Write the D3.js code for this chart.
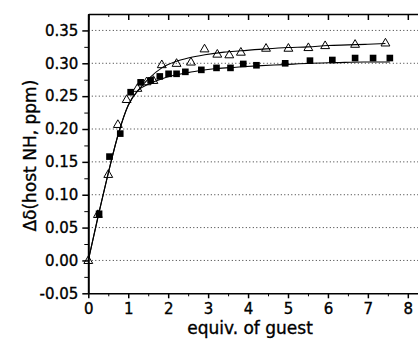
<!DOCTYPE html>
<html><head><meta charset="utf-8">
<script src="https://cdn.jsdelivr.net/npm/d3@7"></script>
<style>
html,body{margin:0;padding:0;background:#fff;}
svg{display:block;}
text{font-family:"DejaVu Sans",sans-serif;fill:#000;stroke:#000;stroke-width:0.35px;}
</style></head>
<body>
<svg id="chart" width="418" height="339"></svg>
<script>
// ---- data ----
const squareX = [0.27,0.53,0.80,1.06,1.31,1.56,1.79,2.01,2.21,2.43,2.83,3.21,3.56,3.88,4.21,4.93,5.55,6.11,6.68,7.13,7.55];
const squareY = [0.071,0.158,0.193,0.256,0.271,0.274,0.280,0.284,0.284,0.287,0.290,0.293,0.293,0.299,0.297,0.300,0.304,0.305,0.308,0.308,0.308];
const triX = [0.00,0.24,0.50,0.74,0.96,1.23,1.46,1.63,1.84,2.21,2.57,2.91,3.23,3.53,3.82,4.45,5.01,5.51,5.93,6.68,7.44];
const triY = [0.000,0.070,0.131,0.207,0.245,0.262,0.272,0.274,0.298,0.300,0.302,0.322,0.314,0.313,0.317,0.323,0.323,0.324,0.327,0.329,0.331];
// fitted curves
const fitTriX = [0.00,0.25,0.50,0.75,1.00,1.25,1.50,1.84,2.21,2.50,2.92,3.40,3.82,4.45,5.00,5.50,6.00,6.50,7.00,7.44];
const fitTriY = [0.000,0.069,0.133,0.192,0.236,0.259,0.276,0.293,0.303,0.308,0.313,0.317,0.319,0.322,0.324,0.325,0.327,0.328,0.329,0.330];
const fitSqX = [0.00,0.27,0.50,0.75,1.00,1.25,1.50,1.78,2.10,2.43,2.80,3.21,3.70,4.22,4.90,5.56,6.20,6.90,7.55];
const fitSqY = [0.000,0.073,0.133,0.192,0.236,0.259,0.268,0.275,0.281,0.285,0.289,0.292,0.294,0.296,0.298,0.300,0.301,0.302,0.302];
const xTicks = [0,1,2,3,4,5,6,7,8];
const yTicks = [-0.05,0.00,0.05,0.10,0.15,0.20,0.25,0.30,0.35];
const gridY = [0.00,0.05,0.10,0.15,0.20,0.25,0.30,0.35];
const xLabel = "equiv. of guest";
const yLabel = "Δδ(host NH, ppm)";

const svg = d3.select("#chart");
const L = 88.3, R = 419, T = 14, B = 293.3;
const x = d3.scaleLinear().domain([0, 8.28]).range([L, R]);
const y = d3.scaleLinear().domain([-0.05, 0.375]).range([B, T]);
const fmtY = d => d3.format(".2f")(d).replace("\u2212", "-");

// gridlines
svg.append("g").selectAll("line").data(gridY).join("line")
  .attr("x1", L).attr("x2", R)
  .attr("y1", d => y(d)).attr("y2", d => y(d))
  .attr("stroke", "#333").attr("stroke-width", 1)
  .attr("stroke-dasharray", "1,2.5");

// bottom axis
const xMinor = d3.range(0.5, 8.3, 1);
const gB = svg.append("g").attr("transform", `translate(0,${B})`)
  .call(d3.axisBottom(x).tickValues(xTicks).tickFormat(d3.format("d")).tickSizeInner(5).tickSizeOuter(0).tickPadding(5));
gB.selectAll(".tick line").attr("stroke-width", 1.5);
gB.select(".domain").attr("stroke-width", 1.5);
gB.selectAll("text").style("font-size", "15px").style("font-family", "DejaVu Sans");
svg.append("g").attr("transform", `translate(0,${B})`)
  .call(d3.axisBottom(x).tickValues(xMinor).tickFormat("").tickSizeInner(3).tickSizeOuter(0))
  .call(g => g.select(".domain").remove());

// top axis (ticks inward)
const gT = svg.append("g").attr("transform", `translate(0,${T})`)
  .call(d3.axisTop(x).tickValues(xTicks).tickFormat("").tickSizeInner(-6).tickSizeOuter(0));
gT.selectAll(".tick line").attr("stroke-width", 1.5);
gT.select(".domain").attr("stroke-width", 1.5);
svg.append("g").attr("transform", `translate(0,${T})`)
  .call(d3.axisTop(x).tickValues(xMinor).tickFormat("").tickSizeInner(-3).tickSizeOuter(0))
  .call(g => g.select(".domain").remove());

// left axis
const yMinor = d3.range(-0.025, 0.37, 0.05);
const gL = svg.append("g").attr("transform", `translate(${L},0)`)
  .call(d3.axisLeft(y).tickValues(yTicks).tickFormat(fmtY).tickSizeInner(6).tickSizeOuter(0).tickPadding(4));
gL.selectAll(".tick line").attr("stroke-width", 1.5);
gL.select(".domain").attr("stroke-width", 2);
gL.selectAll("text").style("font-size", "15px").style("font-family", "DejaVu Sans");
svg.append("g").attr("transform", `translate(${L},0)`)
  .call(d3.axisLeft(y).tickValues(yMinor).tickFormat("").tickSizeInner(4).tickSizeOuter(0))
  .call(g => g.select(".domain").remove());

// fitted lines
const line = d3.line().x(d => x(d[0])).y(d => y(d[1])).curve(d3.curveMonotoneX);
svg.append("path").datum(d3.zip(fitTriX, fitTriY)).attr("d", line)
  .attr("fill", "none").attr("stroke", "#000").attr("stroke-width", 1.1);
svg.append("path").datum(d3.zip(fitSqX, fitSqY)).attr("d", line)
  .attr("fill", "none").attr("stroke", "#000").attr("stroke-width", 1.1);

// squares
svg.append("g").selectAll("path").data(d3.zip(squareX, squareY)).join("path")
  .attr("transform", d => `translate(${x(d[0])},${y(d[1])})`)
  .attr("d", d3.symbol(d3.symbolSquare, 44))
  .attr("fill", "#000");

// triangles
svg.append("g").selectAll("path").data(d3.zip(triX, triY)).join("path")
  .attr("transform", d => `translate(${x(d[0])},${y(d[1]) + 0.5})`)
  .attr("d", d3.symbol(d3.symbolTriangle, 34))
  .attr("fill", "none").attr("stroke", "#000").attr("stroke-width", 1);

// axis titles
svg.append("text").attr("x", 250).attr("y", 334).attr("text-anchor", "middle")
  .style("font-size", "17px").text(xLabel);
svg.append("text").attr("transform", `translate(36,${(T + B) / 2 + 2}) rotate(-90)`)
  .attr("text-anchor", "middle").style("font-size", "17px").text(yLabel);
</script>
</body></html>
